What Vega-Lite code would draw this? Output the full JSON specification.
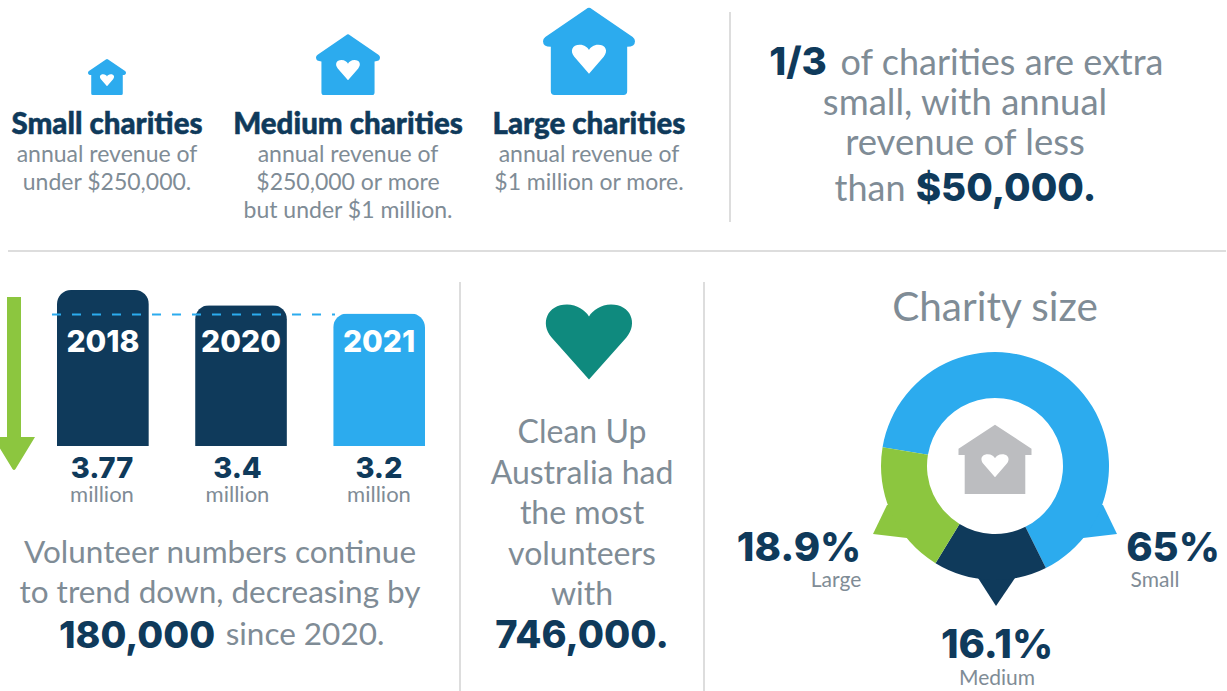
{"$schema":"https://vega.github.io/schema/vega-lite/v6.json","width":1227,"height":691,"padding":0,"autosize":{"type":"none"},"background":"white","config":{"view":{"stroke":null},"scale":{"pointPadding":0},"text":{"font":"Lato","align":"center","baseline":"alphabetic"}},
"datasets":{
"text":[
{"block":"titles","col":"Small","line":"1","text":"Small charities"},
{"block":"titles","col":"Medium","line":"1","text":"Medium charities"},
{"block":"titles","col":"Large","line":"1","text":"Large charities"},
{"block":"desc","col":"Small","line":"1","text":"annual revenue of"},
{"block":"desc","col":"Small","line":"2","text":"under $250,000."},
{"block":"desc","col":"Medium","line":"1","text":"annual revenue of"},
{"block":"desc","col":"Medium","line":"2","text":"$250,000 or more"},
{"block":"desc","col":"Medium","line":"3","text":"but under $1 million."},
{"block":"desc","col":"Large","line":"1","text":"annual revenue of"},
{"block":"desc","col":"Large","line":"2","text":"$1 million or more."},
{"block":"statBold","col":"a","line":"1","text":"1/3"},
{"block":"statBold","col":"b","line":"4","text":"$50,000."},
{"block":"statEnds","col":"a","line":"1","text":"of charities are extra"},
{"block":"statEnds","col":"b","line":"4","text":"than"},
{"block":"statMid","col":"a","line":"2","text":"small, with annual"},
{"block":"statMid","col":"a","line":"3","text":"revenue of less"},
{"block":"volunteers","col":"a","line":"1","text":"Volunteer numbers continue"},
{"block":"volunteers","col":"a","line":"2","text":"to trend down, decreasing by"},
{"block":"since","col":"a","line":"3","text":"since 2020."},
{"block":"drop","col":"a","line":"3","text":"180,000"},
{"block":"cleanup","col":"a","line":"1","text":"Clean Up"},
{"block":"cleanup","col":"a","line":"2","text":"Australia had"},
{"block":"cleanup","col":"a","line":"3","text":"the most"},
{"block":"cleanup","col":"a","line":"4","text":"volunteers"},
{"block":"cleanup","col":"a","line":"5","text":"with"},
{"block":"most","col":"a","line":"6","text":"746,000."},
{"block":"head","col":"a","line":"1","text":"Charity size"}
],
"bars":[{"year":"2018","volunteers":3.77},{"year":"2020","volunteers":3.4},{"year":"2021","volunteers":3.2}],
"ring":[{"size":"Small","share":65,"rank":1,"pct":"65%"},{"size":"Medium","share":16.1,"rank":2,"pct":"16.1%"},{"size":"Large","share":18.9,"rank":3,"pct":"18.9%"}],
"ends":[{"end":"start","divider":"a"},{"end":"stop","divider":"a"},{"end":"start","divider":"b"},{"end":"stop","divider":"b"}],
"icons":[{"charity":"Small"},{"charity":"Medium"},{"charity":"Large"}]
},
"resolve":{"scale":{"x":"independent","y":"independent","color":"independent","shape":"independent","size":"independent","theta":"independent"}},
"layer":[
{"data":{"name":"ends"},"transform":[{"filter":"datum.divider==='a'"}],"mark":{"type":"line","stroke":"#dddddd","strokeWidth":2},"encoding":{"x":{"datum":"top","type":"nominal","scale":{"type":"point","domain":["top"],"range":[730,730]},"axis":null},"y":{"field":"end","type":"nominal","scale":{"type":"point","domain":["start","stop"],"range":[12,222]},"axis":null}}},
{"data":{"name":"ends"},"transform":[{"filter":"datum.divider==='a'"}],"mark":{"type":"line","stroke":"#dddddd","strokeWidth":2},"encoding":{"y":{"datum":"mid","type":"nominal","scale":{"type":"point","domain":["mid"],"range":[251,251]},"axis":null},"x":{"field":"end","type":"nominal","scale":{"type":"point","domain":["start","stop"],"range":[8,1226]},"axis":null}}},
{"data":{"name":"ends"},"mark":{"type":"line","stroke":"#dddddd","strokeWidth":2},"encoding":{"x":{"field":"divider","type":"nominal","scale":{"type":"point","domain":["a","b"],"range":[460,704]},"axis":null},"y":{"field":"end","type":"nominal","scale":{"type":"point","domain":["start","stop"],"range":[282,691]},"axis":null},"detail":{"field":"divider"}}},
{"data":{"values":[{"trend":"down"}]},"mark":{"type":"point","filled":true,"opacity":1,"size":4,"color":"#8cc63f","shape":"M-7,0 L7,0 L7,140 L21,140 L1.5,172 Q0,174 -1.5,172 L-21,140 L-7,140 Z"},"encoding":{"x":{"field":"trend","type":"nominal","scale":{"type":"point","domain":["down"],"range":[14,14]},"axis":null},"y":{"field":"trend","type":"nominal","scale":{"type":"point","domain":["down"],"range":[297,297]},"axis":null}}},
{"data":{"name":"bars"},"mark":{"type":"bar","cornerRadiusTopLeft":14,"cornerRadiusTopRight":14},"encoding":{"x":{"field":"year","type":"nominal","scale":{"type":"band","domain":["2018","2020","2021"],"range":[57,425],"paddingInner":0.335,"paddingOuter":0},"axis":null},"y":{"field":"volunteers","type":"quantitative","scale":{"domain":[0,3.77],"range":[446,290],"nice":false},"axis":null},"color":{"field":"year","type":"nominal","scale":{"domain":["2018","2020","2021"],"range":["#0f3a5b","#0f3a5b","#2cabee"]},"legend":null}}},
{"data":{"values":[{"year":"2018","level":3.2},{"year":"2021","level":3.2}]},"mark":{"type":"line","stroke":"#2cabee","strokeWidth":2,"strokeDash":[9,11]},"encoding":{"x":{"field":"year","type":"nominal","scale":{"type":"point","domain":["2018","2021"],"range":[52,335]},"axis":null},"y":{"field":"level","type":"quantitative","scale":{"domain":[0,3.77],"range":[447,291],"nice":false},"axis":null}}},
{"data":{"name":"bars"},"mark":{"type":"text","font":"Inter","fontSize":30,"fontWeight":800,"fill":"white"},"encoding":{"x":{"field":"year","type":"nominal","scale":{"type":"band","domain":["2018","2020","2021"],"range":[57,425],"paddingInner":0.335,"paddingOuter":0},"axis":null},"y":{"datum":"year","type":"nominal","scale":{"type":"point","domain":["year"],"range":[352,352]},"axis":null},"text":{"field":"year"}}},
{"data":{"name":"bars"},"transform":[{"filter":"datum.year!=='2021'"}],"layer":[
{"mark":{"type":"text","font":"Inter","fontSize":29,"fontWeight":800,"fill":"#0f3a5b"},"encoding":{"x":{"field":"year","type":"nominal","scale":{"type":"point","domain":["2018","2020"],"range":[102,237.5]},"axis":null},"y":{"datum":"v","type":"nominal","scale":{"type":"point","domain":["v","m"],"range":[478,502]},"axis":null},"text":{"field":"volunteers","type":"nominal"}}},
{"mark":{"type":"text","fontSize":22,"fill":"#7f8c96","text":"million"},"encoding":{"x":{"field":"year","type":"nominal","scale":{"type":"point","domain":["2018","2020"],"range":[102,237.5]},"axis":null},"y":{"datum":"m","type":"nominal","scale":{"type":"point","domain":["v","m"],"range":[478,502]},"axis":null}}}
]},
{"data":{"name":"bars"},"transform":[{"filter":"datum.year==='2021'"}],"layer":[
{"mark":{"type":"text","font":"Inter","fontSize":29,"fontWeight":800,"fill":"#0f3a5b"},"encoding":{"x":{"field":"year","type":"nominal","scale":{"type":"point","domain":["2021"],"range":[379,379]},"axis":null},"y":{"datum":"v","type":"nominal","scale":{"type":"point","domain":["v","m"],"range":[478,502]},"axis":null},"text":{"field":"volunteers","type":"nominal"}}},
{"mark":{"type":"text","fontSize":22,"fill":"#7f8c96","text":"million"},"encoding":{"x":{"field":"year","type":"nominal","scale":{"type":"point","domain":["2021"],"range":[378,378]},"axis":null},"y":{"datum":"m","type":"nominal","scale":{"type":"point","domain":["v","m"],"range":[478,502]},"axis":null}}}
]},
{"data":{"name":"icons"},"mark":{"type":"point","filled":true,"opacity":1,"color":"#2cabee","shape":"M-0.75,0 Q-0.83,0 -0.83,-0.08 L-0.83,-1.05 Q-1,-1.05 -1,-1.17 Q-1,-1.22 -0.95,-1.26 L-0.06,-1.87 Q0,-1.92 0.06,-1.87 L0.95,-1.26 Q1,-1.22 1,-1.17 Q1,-1.05 0.83,-1.05 L0.83,-0.08 Q0.83,0 0.75,0 Z M0,-0.46 L0.32,-0.83 C0.42,-0.95 0.37,-1.09 0.2,-1.09 C0.1,-1.09 0.03,-1.03 0,-0.98 C-0.03,-1.03 -0.1,-1.09 -0.2,-1.09 C-0.37,-1.09 -0.42,-0.95 -0.32,-0.83 Z"},"encoding":{"x":{"field":"charity","type":"nominal","scale":{"type":"point","domain":["Small","Medium","Large"],"range":[107,589]},"axis":null},"y":{"datum":"base","type":"nominal","scale":{"type":"point","domain":["base"],"range":[95,95]},"axis":null},"size":{"field":"charity","type":"nominal","scale":{"type":"ordinal","domain":["Small","Medium","Large"],"range":[1444,4096,8464]},"legend":null}}},
{"data":{"name":"text"},"transform":[{"filter":"datum.block==='titles'"}],"mark":{"type":"text","fontSize":29.5,"fontWeight":900,"fill":"#0f3a5b","stroke":"#0f3a5b","strokeWidth":0.5},"encoding":{"x":{"field":"col","type":"nominal","scale":{"type":"point","domain":["Small","Medium","Large"],"range":[107,589]},"axis":null},"y":{"field":"line","type":"nominal","scale":{"type":"point","domain":["1"],"range":[134,134]},"axis":null},"text":{"field":"text"}}},
{"data":{"name":"text"},"transform":[{"filter":"datum.block==='desc'"}],"mark":{"type":"text","fontSize":23,"fill":"#7f8c96"},"encoding":{"x":{"field":"col","type":"nominal","scale":{"type":"point","domain":["Small","Medium","Large"],"range":[107,589]},"axis":null},"y":{"field":"line","type":"nominal","scale":{"type":"point","domain":["1","2","3"],"range":[162,218]},"axis":null},"text":{"field":"text"}}},
{"data":{"name":"text"},"transform":[{"filter":"datum.block==='statBold'"}],"mark":{"type":"text","font":"Inter","fontSize":38.5,"fontWeight":800,"fill":"#0f3a5b"},"encoding":{"x":{"field":"col","type":"nominal","scale":{"type":"point","domain":["a","b"],"range":[798,1006]},"axis":null},"y":{"field":"line","type":"nominal","scale":{"type":"point","domain":["1","4"],"range":[75,201]},"axis":null},"text":{"field":"text"}}},
{"data":{"name":"text"},"transform":[{"filter":"datum.block==='statEnds'"}],"mark":{"type":"text","fontSize":36,"fill":"#7f8c96"},"encoding":{"x":{"field":"col","type":"nominal","scale":{"type":"point","domain":["a","b"],"range":[1002,870]},"axis":null},"y":{"field":"line","type":"nominal","scale":{"type":"point","domain":["1","4"],"range":[75,201]},"axis":null},"text":{"field":"text"}}},
{"data":{"name":"text"},"transform":[{"filter":"datum.block==='statMid'"}],"mark":{"type":"text","fontSize":36.5,"fill":"#7f8c96"},"encoding":{"x":{"field":"col","type":"nominal","scale":{"type":"point","domain":["a"],"range":[965,965]},"axis":null},"y":{"field":"line","type":"nominal","scale":{"type":"point","domain":["2","3"],"range":[115,155]},"axis":null},"text":{"field":"text"}}},
{"data":{"name":"text"},"transform":[{"filter":"datum.block==='volunteers'"}],"mark":{"type":"text","fontSize":31.5,"fill":"#7f8c96"},"encoding":{"x":{"field":"col","type":"nominal","scale":{"type":"point","domain":["a"],"range":[220,220]},"axis":null},"y":{"field":"line","type":"nominal","scale":{"type":"point","domain":["1","2"],"range":[563,603]},"axis":null},"text":{"field":"text"}}},
{"data":{"name":"text"},"transform":[{"filter":"datum.block==='since'"}],"mark":{"type":"text","fontSize":31.5,"fill":"#7f8c96"},"encoding":{"x":{"field":"col","type":"nominal","scale":{"type":"point","domain":["a"],"range":[305,305]},"axis":null},"y":{"field":"line","type":"nominal","scale":{"type":"point","domain":["3"],"range":[645,645]},"axis":null},"text":{"field":"text"}}},
{"data":{"name":"text"},"transform":[{"filter":"datum.block==='drop'"}],"mark":{"type":"text","font":"Inter","fontSize":37.5,"fontWeight":800,"fill":"#0f3a5b"},"encoding":{"x":{"field":"col","type":"nominal","scale":{"type":"point","domain":["a"],"range":[137,137]},"axis":null},"y":{"field":"line","type":"nominal","scale":{"type":"point","domain":["3"],"range":[648,648]},"axis":null},"text":{"field":"text"}}},
{"data":{"values":[{"symbol":"heart"}]},"mark":{"type":"point","filled":true,"opacity":1,"size":7744,"color":"#0f8a7e","shape":"M0,0.85 L0.85,-0.1 C1.12,-0.42 0.95,-0.85 0.5,-0.85 C0.27,-0.85 0.09,-0.72 0,-0.58 C-0.09,-0.72 -0.27,-0.85 -0.5,-0.85 C-0.95,-0.85 -1.12,-0.42 -0.85,-0.1 Z"},"encoding":{"x":{"field":"symbol","type":"nominal","scale":{"type":"point","domain":["heart"],"range":[589,589]},"axis":null},"y":{"field":"symbol","type":"nominal","scale":{"type":"point","domain":["heart"],"range":[342,342]},"axis":null}}},
{"data":{"name":"text"},"transform":[{"filter":"datum.block==='cleanup'"}],"mark":{"type":"text","fontSize":32,"fill":"#7f8c96"},"encoding":{"x":{"field":"col","type":"nominal","scale":{"type":"point","domain":["a"],"range":[582,582]},"axis":null},"y":{"field":"line","type":"nominal","scale":{"type":"point","domain":["1","2","3","4","5"],"range":[443,605]},"axis":null},"text":{"field":"text"}}},
{"data":{"name":"text"},"transform":[{"filter":"datum.block==='most'"}],"mark":{"type":"text","font":"Inter","fontSize":38,"fontWeight":800,"fill":"#0f3a5b"},"encoding":{"x":{"field":"col","type":"nominal","scale":{"type":"point","domain":["a"],"range":[582,582]},"axis":null},"y":{"field":"line","type":"nominal","scale":{"type":"point","domain":["6"],"range":[648,648]},"axis":null},"text":{"field":"text"}}},
{"data":{"name":"text"},"transform":[{"filter":"datum.block==='head'"}],"mark":{"type":"text","fontSize":40.5,"fill":"#7f8c96"},"encoding":{"x":{"field":"col","type":"nominal","scale":{"type":"point","domain":["a"],"range":[995,995]},"axis":null},"y":{"field":"line","type":"nominal","scale":{"type":"point","domain":["1"],"range":[321,321]},"axis":null},"text":{"field":"text"}}},
{"data":{"name":"ring"},"mark":{"type":"point","filled":true,"opacity":1,"size":4,"strokeWidth":0},"encoding":{"x":{"datum":"c","type":"nominal","scale":{"type":"point","domain":["c"],"range":[995,995]},"axis":null},"y":{"datum":"c","type":"nominal","scale":{"type":"point","domain":["c"],"range":[466,466]},"axis":null},"shape":{"field":"size","type":"nominal","scale":{"domain":["Small","Medium","Large"],"range":["M108,39 L122,68 L88,72 L85,40 Z","M-17,112 L1,140 L20,112 L0,100 Z","M-108,39 L-122,68 L-88,72 L-85,40 Z"]},"legend":null},"color":{"field":"size","type":"nominal","scale":{"domain":["Small","Medium","Large"],"range":["#2cabee","#0f3a5b","#8cc63f"]},"legend":null}}},
{"data":{"name":"ring"},"mark":{"type":"arc","radius":114,"radius2":68},"encoding":{"x":{"datum":"c","type":"nominal","scale":{"type":"point","domain":["c"],"range":[995,995]},"axis":null},"y":{"datum":"c","type":"nominal","scale":{"type":"point","domain":["c"],"range":[466,466]},"axis":null},"theta":{"field":"share","type":"quantitative","stack":true,"scale":{"domain":[0,100],"range":[4.878,11.161]}},"order":{"field":"rank"},"color":{"field":"size","type":"nominal","scale":{"domain":["Small","Medium","Large"],"range":["#2cabee","#0f3a5b","#8cc63f"]},"legend":null}}},
{"data":{"values":[{"symbol":"house"}]},"mark":{"type":"point","filled":true,"opacity":1,"size":5329,"color":"#bcbdc0","shape":"M-0.83,0 L-0.83,-1.07 L-1,-1.07 L-1,-1.24 L0,-1.9 L1,-1.24 L1,-1.07 L0.83,-1.07 L0.83,0 Z M0,-0.46 L0.32,-0.83 C0.42,-0.95 0.37,-1.09 0.2,-1.09 C0.1,-1.09 0.03,-1.03 0,-0.98 C-0.03,-1.03 -0.1,-1.09 -0.2,-1.09 C-0.37,-1.09 -0.42,-0.95 -0.32,-0.83 Z"},"encoding":{"x":{"field":"symbol","type":"nominal","scale":{"type":"point","domain":["house"],"range":[995,995]},"axis":null},"y":{"field":"symbol","type":"nominal","scale":{"type":"point","domain":["house"],"range":[494,494]},"axis":null}}},
{"data":{"name":"ring"},"transform":[{"filter":"datum.size!=='Medium'"}],"mark":{"type":"text","font":"Inter","fontSize":40,"fontWeight":800,"fill":"#0f3a5b"},"encoding":{"x":{"field":"size","type":"nominal","scale":{"type":"point","domain":["Large","Small"],"range":[799,1173]},"axis":null},"y":{"datum":"p","type":"nominal","scale":{"type":"point","domain":["p"],"range":[561,561]},"axis":null},"text":{"field":"pct"}}},
{"data":{"name":"ring"},"transform":[{"filter":"datum.size!=='Medium'"}],"mark":{"type":"text","fontSize":21,"fill":"#7f8c96"},"encoding":{"x":{"field":"size","type":"nominal","scale":{"type":"point","domain":["Large","Small"],"range":[836,1155]},"axis":null},"y":{"datum":"p","type":"nominal","scale":{"type":"point","domain":["p"],"range":[587,587]},"axis":null},"text":{"field":"size"}}},
{"data":{"name":"ring"},"transform":[{"filter":"datum.size==='Medium'"}],"mark":{"type":"text","font":"Inter","fontSize":40,"fontWeight":800,"fill":"#0f3a5b"},"encoding":{"x":{"field":"size","type":"nominal","scale":{"type":"point","domain":["Medium"],"range":[997,997]},"axis":null},"y":{"datum":"p","type":"nominal","scale":{"type":"point","domain":["p"],"range":[658,658]},"axis":null},"text":{"field":"pct"}}},
{"data":{"name":"ring"},"transform":[{"filter":"datum.size==='Medium'"}],"mark":{"type":"text","fontSize":21,"fill":"#7f8c96"},"encoding":{"x":{"field":"size","type":"nominal","scale":{"type":"point","domain":["Medium"],"range":[997,997]},"axis":null},"y":{"datum":"p","type":"nominal","scale":{"type":"point","domain":["p"],"range":[685,685]},"axis":null},"text":{"field":"size"}}}
]}
